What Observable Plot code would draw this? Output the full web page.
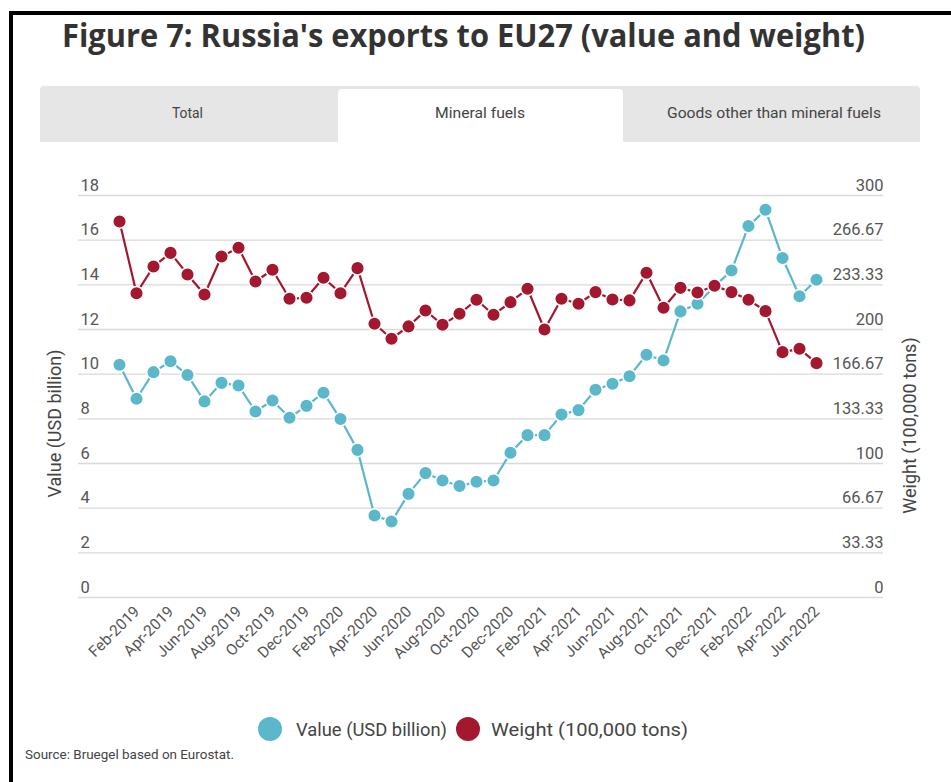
<!DOCTYPE html>
<html><head><meta charset="utf-8">
<script src="https://cdn.jsdelivr.net/npm/d3@7"></script>
<script src="https://cdn.jsdelivr.net/npm/@observablehq/plot@0.6"></script>
<style>
body{margin:0;background:#fff;}
#page{position:relative;width:951px;height:782px;overflow:hidden;background:#fff;font-family:Roboto, sans-serif;}
.bd{position:absolute;background:#000;}
.fit{position:absolute;white-space:nowrap;transform-origin:0 0;}
#title{font-family:"Open Sans",sans-serif;font-weight:700;font-size:33px;line-height:33px;color:#333;}
#tabs{position:absolute;left:40px;top:86px;width:880px;height:56px;background:#e6e6e6;border-radius:4px 4px 0 0;}
#tabsel{position:absolute;left:338px;top:89px;width:285px;height:56px;background:#fff;border-radius:4px 4px 0 0;}
.tab{font-size:15px;line-height:15px;color:#444;}
.leg{font-size:19px;line-height:19px;color:#444;}
.dotl{position:absolute;width:24px;height:24px;border-radius:50%;}
#chart{position:absolute;left:0;top:160px;}
</style></head>
<body>
<div id="page">
  <div class="bd" style="left:9px;top:11px;width:942px;height:4px"></div>
  <div class="bd" style="left:9px;top:11px;width:4px;height:771px"></div>
  <div id="title" class="fit" data-x="62" data-w="803" style="top:18px">Figure 7: Russia's exports to EU27 (value and weight)</div>
  <div id="tabs"></div>
  <div id="tabsel"></div>
  <div class="fit tab" data-x="172" data-w="31" style="top:106px">Total</div>
  <div class="fit tab" data-x="435" data-w="90" style="top:106px">Mineral fuels</div>
  <div class="fit tab" data-x="667" data-w="214" style="top:106px">Goods other than mineral fuels</div>
  <div id="chart"></div>
  <div class="dotl" style="left:258px;top:717px;background:#5bb8cb"></div>
  <div class="fit leg" data-x="296" data-w="151" style="top:720px">Value (USD billion)</div>
  <div class="dotl" style="left:456px;top:717px;background:#a3172f"></div>
  <div class="fit leg" data-x="491" data-w="197" style="top:720px">Weight (100,000 tons)</div>
  <div class="fit" data-x="25" data-w="209" style="top:748px;font-size:13px;line-height:13px;color:#444">Source: Bruegel based on Eurostat.</div>
</div>
<script>
const months = ["Jan-2019","Feb-2019","Mar-2019","Apr-2019","May-2019","Jun-2019","Jul-2019","Aug-2019","Sep-2019","Oct-2019","Nov-2019","Dec-2019",
"Jan-2020","Feb-2020","Mar-2020","Apr-2020","May-2020","Jun-2020","Jul-2020","Aug-2020","Sep-2020","Oct-2020","Nov-2020","Dec-2020",
"Jan-2021","Feb-2021","Mar-2021","Apr-2021","May-2021","Jun-2021","Jul-2021","Aug-2021","Sep-2021","Oct-2021","Nov-2021","Dec-2021",
"Jan-2022","Feb-2022","Mar-2022","Apr-2022","May-2022","Jun-2022"];
const xTicks = ["Feb-2019","Apr-2019","Jun-2019","Aug-2019","Oct-2019","Dec-2019","Feb-2020","Apr-2020","Jun-2020","Aug-2020","Oct-2020","Dec-2020",
"Feb-2021","Apr-2021","Jun-2021","Aug-2021","Oct-2021","Dec-2021","Feb-2022","Apr-2022","Jun-2022"];
const valueUSD = [10.42,8.90,10.09,10.58,9.96,8.78,9.61,9.49,8.33,8.82,8.05,8.58,
9.17,7.99,6.61,3.67,3.40,4.64,5.57,5.24,4.99,5.18,5.24,6.48,
7.27,7.27,8.19,8.39,9.30,9.57,9.91,10.87,10.61,12.81,13.15,13.93,
14.64,16.63,17.36,15.20,13.49,14.23];
const weightTons = [280.6,227.1,247.0,257.2,241.1,226.1,254.5,261.0,235.8,244.6,222.9,223.7,
238.6,227.1,245.8,204.3,193.1,202.3,214.2,203.5,211.7,222.2,211.0,220.4,
230.4,200.0,222.9,219.2,227.9,222.4,221.7,242.3,216.2,231.1,227.6,232.6,
227.9,222.2,213.7,183.1,185.6,174.9];
const leftTicks = [0,2,4,6,8,10,12,14,16,18];
const rightTickLabels = ["0","33.33","66.67","100","133.33","166.67","200","233.33","266.67","300"];
const weightMax = 300, valueMax = 18;

const blue = "#5bb8cb", red = "#a3172f";
const data = months.map((m,i)=>({month:m, value:valueUSD[i], weight:weightTons[i]}));
const wy = d => d.weight * valueMax / weightMax;

const chart = Plot.plot({
  width: 951, height: 520,
  marginTop: 35, marginBottom: 83, marginLeft: 78, marginRight: 68,
  x: {type: "point", domain: months, range: [117.3, 817], padding: 0, axis: null},
  y: {domain: [0, valueMax], axis: null},
  style: {fontFamily: "Roboto, sans-serif", background: "transparent"},
  marks: [
    Plot.ruleY(leftTicks, {stroke: "#d9d9d9", strokeWidth: 1.3}),
    Plot.text(leftTicks, {y: d => d, text: d => String(d), frameAnchor: "left", textAnchor: "start", dx: 2, dy: -10, fontSize: 16.5, fill: "#555"}),
    Plot.text(leftTicks, {y: d => d, text: (d, i) => rightTickLabels[i], frameAnchor: "right", textAnchor: "end", dy: -10, fontSize: 16.5, fill: "#555"}),
    Plot.text(xTicks, {x: d => d, text: d => d, frameAnchor: "bottom", rotate: -45, textAnchor: "end", dx: 4, dy: 15, fontSize: 15.5, fill: "#555"}),
    Plot.line(data, {x: "month", y: "value", stroke: blue, strokeWidth: 2.2}),
    Plot.dot(data, {x: "month", y: "value", r: 6.8, fill: blue, stroke: "#fff", strokeWidth: 1.5}),
    Plot.line(data, {x: "month", y: wy, stroke: red, strokeWidth: 2.2}),
    Plot.dot(data, {x: "month", y: wy, r: 6.8, fill: red, stroke: "#fff", strokeWidth: 1.5}),
    Plot.text(["Value (USD billion)"], {text: d => d, frameAnchor: "left", textAnchor: "middle", rotate: -90, dx: -23, dy: 27, fontSize: 18, fill: "#444"}),
    Plot.text(["Weight (100,000 tons)"], {text: d => d, frameAnchor: "right", textAnchor: "middle", rotate: -90, dx: 27, dy: 29, fontSize: 18, fill: "#444"})
  ]
});
document.getElementById("chart").appendChild(chart);

document.querySelectorAll(".fit").forEach(el => {
  const w = el.getBoundingClientRect().width;
  el.style.left = el.dataset.x + "px";
  el.style.transform = `scaleX(${(+el.dataset.w) / w})`;
});
</script>
</body></html>
